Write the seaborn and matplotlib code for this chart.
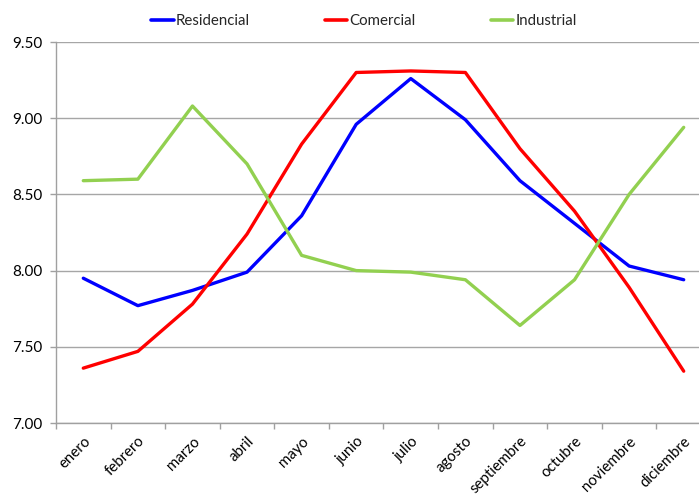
import matplotlib
matplotlib.use("Agg")
import matplotlib.pyplot as plt
import seaborn as sns
import pandas as pd
import numpy as np

meses = ["enero", "febrero", "marzo", "abril", "mayo", "junio", "julio",
         "agosto", "septiembre", "octubre", "noviembre", "diciembre"]
residencial = [7.95, 7.77, 7.87, 7.99, 8.36, 8.96, 9.26, 8.99, 8.59, 8.31, 8.03, 7.94]
comercial = [7.36, 7.47, 7.78, 8.24, 8.83, 9.30, 9.31, 9.30, 8.80, 8.39, 7.89, 7.34]
industrial = [8.59, 8.60, 9.08, 8.70, 8.10, 8.00, 7.99, 7.94, 7.64, 7.94, 8.50, 8.94]
series = ["Residencial", "Comercial", "Industrial"]
colores = ["#0000FF", "#FF0000", "#92D050"]
yticks = [7.00, 7.50, 8.00, 8.50, 9.00, 9.50]

df = pd.DataFrame({
    "mes": meses * 3,
    "pos": list(range(len(meses))) * 3,
    "valor": residencial + comercial + industrial,
    "sector": [s for s in series for _ in meses],
})

sns.set_theme(style="white")
plt.rcParams["font.family"] = ["Lato", "DejaVu Sans"]

fig = plt.figure(figsize=(6.99, 4.95), dpi=100)
ax = fig.add_axes([56 / 699, 1 - 423 / 495, 655 / 699, 381 / 495])

sns.lineplot(data=df, x="pos", y="valor", hue="sector", hue_order=series,
             palette=colores, linewidth=2.4, ax=ax, legend=False, sort=False)

ax.set_xlim(-0.5, len(meses) - 0.5)
ax.set_ylim(7.0, 9.5)
ax.set_yticks(yticks)
ax.set_yticklabels([f"{v:.2f}" for v in yticks], fontsize=11, color="#000000")
ax.yaxis.grid(True, color="#a6a6a6", linewidth=1.0)
ax.set_axisbelow(True)

ax.set_xticks(range(len(meses)))
ax.set_xticklabels(meses, rotation=45, ha="right", rotation_mode="anchor",
                   fontsize=10.8, color="#000000")
ax.set_xticks(np.arange(-0.5, len(meses), 1.0), minor=True)
ax.tick_params(axis="x", which="major", length=0, pad=8)
ax.tick_params(axis="x", which="minor", length=4, width=1, color="#a0a0a0",
               direction="out", bottom=True)
ax.tick_params(axis="y", length=4, width=1, color="#a0a0a0", direction="out",
               left=True, pad=6)

for side in ["top", "right"]:
    ax.spines[side].set_visible(False)
for side in ["left", "bottom"]:
    ax.spines[side].set_color("#a0a0a0")
    ax.spines[side].set_linewidth(1.0)

ax.set_xlabel("")
ax.set_ylabel("")

handles = [plt.Line2D([], [], color=c, linewidth=2.6) for c in colores]
fig.legend(handles, series, loc="center", bbox_to_anchor=(364 / 699, 1 - 21 / 495),
           ncol=3, frameon=False, fontsize=10.8, handlelength=1.5,
           handletextpad=0.15, columnspacing=5.0)

fig.savefig("out.png", dpi=100)
